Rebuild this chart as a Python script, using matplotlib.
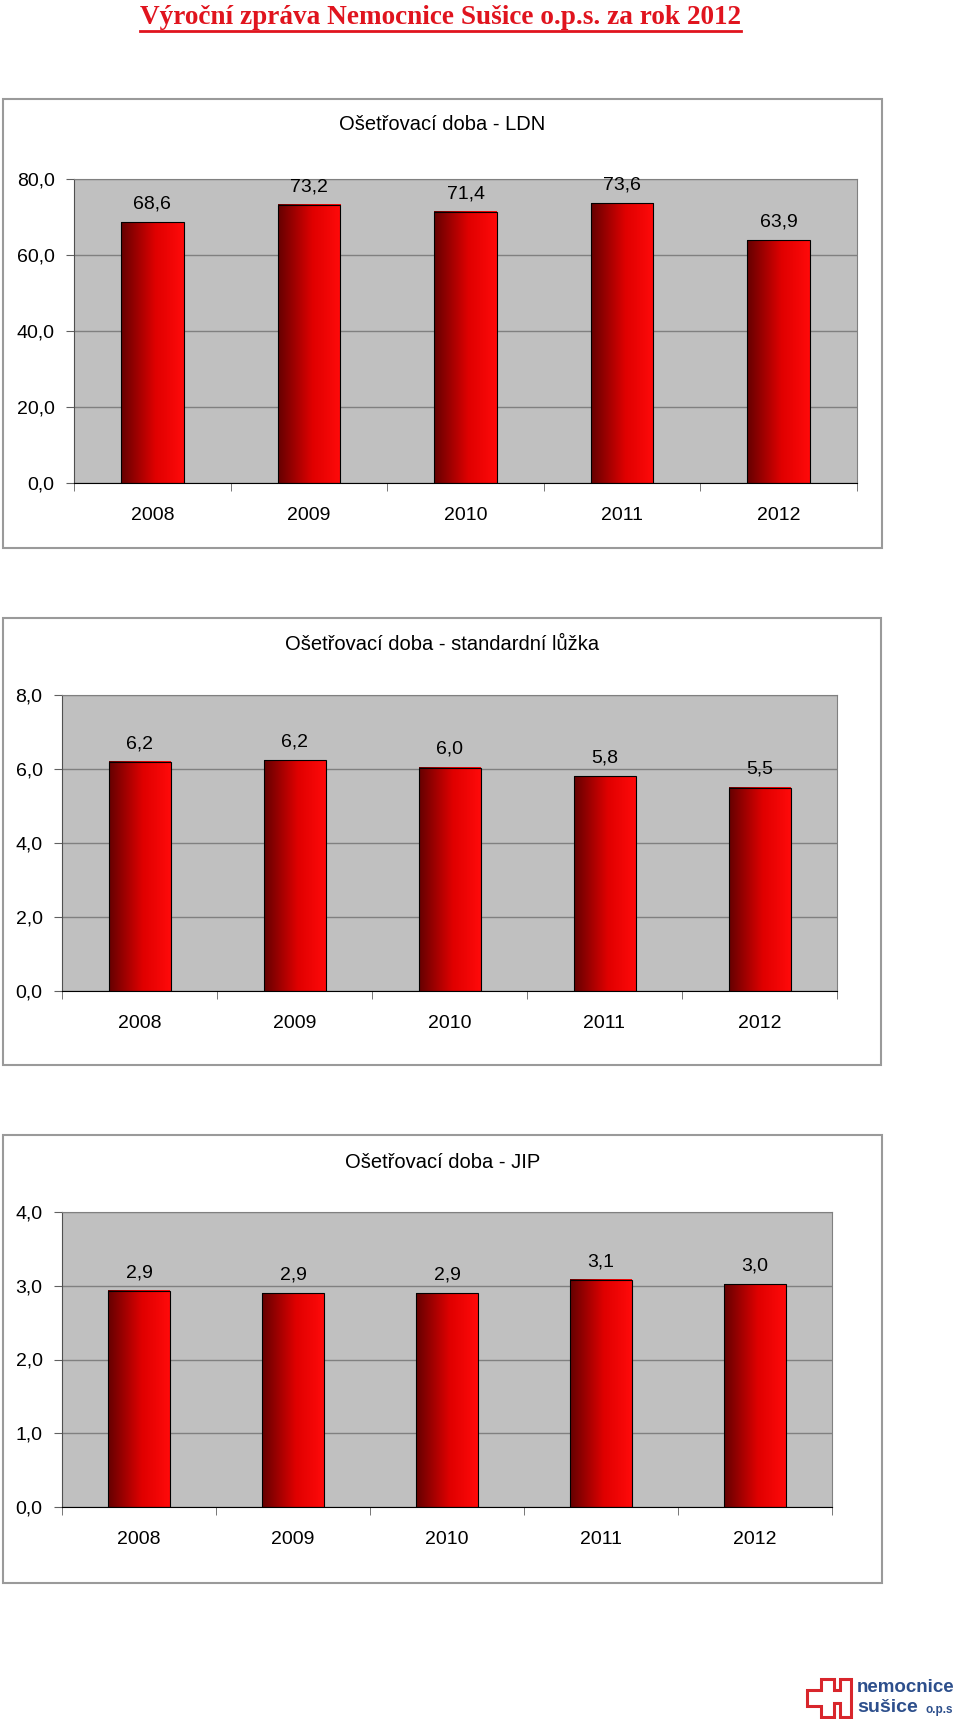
import numpy as np
import matplotlib.pyplot as plt
from matplotlib.colors import LinearSegmentedColormap
from matplotlib.patches import Rectangle, Polygon

years = ["2008", "2009", "2010", "2011", "2012"]
ldn = [68.6, 73.2, 71.4, 73.6, 63.9]
standard = [6.20, 6.23, 6.04, 5.81, 5.50]
jip = [2.93, 2.90, 2.90, 3.08, 3.02]

titles = ["Ošetřovací doba - LDN",
          "Ošetřovací doba - standardní lůžka",
          "Ošetřovací doba - JIP"]
y_ticks = [[0, 20, 40, 60, 80], [0, 2, 4, 6, 8], [0, 1, 2, 3, 4]]
header = "Výroční zpráva Nemocnice Sušice o.p.s. za rok 2012"

W, H = 960, 1719
plt.rcParams['font.family'] = ['Liberation Sans', 'DejaVu Sans']

fig = plt.figure(figsize=(W / 100, H / 100), dpi=100)

# overlay in pixel coordinates for frames, header and logo
bg = fig.add_axes([0, 0, 1, 1])
bg.set_xlim(0, W)
bg.set_ylim(H, 0)
bg.axis("off")

def px_axes(l, t, r, b):
    return fig.add_axes([l / W, 1 - b / H, (r - l) / W, (b - t) / H])

bar_cmap = LinearSegmentedColormap.from_list(
    "bar", [(0, "#640000"), (0.55, "#e00000"), (1, "#ff0a0a")])
grad = np.linspace(0, 1, 256).reshape(1, -1)

def comma(v):
    return f"{v:.1f}".replace(".", ",")

# (frame box, plot area, title y) in pixels
layouts = [((3, 99, 882, 548), (74, 179, 857, 483), 125),
           ((3, 618, 881, 1065), (62, 695, 837, 991), 644),
           ((3, 1135, 882, 1583), (62, 1212, 832, 1507), 1162)]

for (box, area, ty), values, ticks, title in zip(layouts, [ldn, standard, jip], y_ticks, titles):
    bx0, by0, bx1, by1 = box
    bg.add_patch(Rectangle((bx0, by0), bx1 - bx0, by1 - by0, fill=False,
                           edgecolor="#9a9a9a", lw=1.5))
    bg.text((bx0 + bx1) / 2, ty, title, ha="center", va="center", fontsize=14.5)

    ax = px_axes(*area)
    ax.set_facecolor("#c0c0c0")
    x = np.arange(len(years))
    bars = ax.bar(x, values, width=0.4, color="none", edgecolor="black",
                  lw=0.8, zorder=3)
    for b, v in zip(bars, values):
        ax.imshow(grad, extent=[b.get_x(), b.get_x() + b.get_width(), 0, v],
                  aspect="auto", cmap=bar_cmap, zorder=2)
        ax.annotate(comma(v), (b.get_x() + b.get_width() / 2, v),
                    xytext=(0, 13), textcoords="offset points",
                    ha="center", va="center", fontsize=14)

    ax.set_xlim(-0.5, len(years) - 0.5)
    ax.set_ylim(ticks[0], ticks[-1])
    ax.set_yticks(ticks)
    ax.set_yticklabels([comma(t) for t in ticks])
    ax.yaxis.grid(True, color="#808080", lw=1)
    ax.set_axisbelow(True)

    ax.set_xticks(x)
    ax.set_xticklabels(years)
    ax.set_xticks(np.arange(len(years) + 1) - 0.5, minor=True)
    ax.tick_params(axis="x", which="major", length=0, pad=17.5, labelsize=14)
    ax.tick_params(axis="x", which="minor", length=6, direction="out",
                   color="#606060")
    ax.tick_params(axis="y", length=6, direction="out", pad=8, labelsize=14,
                   color="#606060")

    for side in ["top", "right"]:
        ax.spines[side].set_color("#808080")
    ax.spines["left"].set_color("#505050")
    ax.spines["bottom"].set_color("black")

# header, red underlined serif
ht = bg.text(440, 17, header, ha="center", va="center", color="#e0141e",
             fontsize=19.6, fontweight="bold", family=["Liberation Serif"])
fig.canvas.draw()
ext = ht.get_window_extent()
bg.plot([ext.x0, ext.x1], [31, 31], color="#e0141e", lw=2)

# logo in the bottom right corner
logo = [(821, 1679), (834, 1679), (834, 1690), (840, 1690), (840, 1679),
        (851, 1679), (851, 1717), (840, 1717), (840, 1703), (834, 1703),
        (834, 1717), (821, 1717), (821, 1706), (807, 1706), (807, 1690),
        (821, 1690)]
bg.add_patch(Polygon(logo, closed=True, fill=False, edgecolor="#d8262c", lw=2.2))
bg.text(857, 1688, "nemocnice", ha="left", va="center", color="#2d4f8c",
        fontsize=13.5, fontweight="bold")
bg.text(857, 1708, "sušice", ha="left", va="center", color="#2d4f8c",
        fontsize=14, fontweight="bold")
bg.text(925, 1710, "o.p.s", ha="left", va="center", color="#2d4f8c",
        fontsize=8.5, fontweight="bold")

fig.savefig("out.png", dpi=100)
